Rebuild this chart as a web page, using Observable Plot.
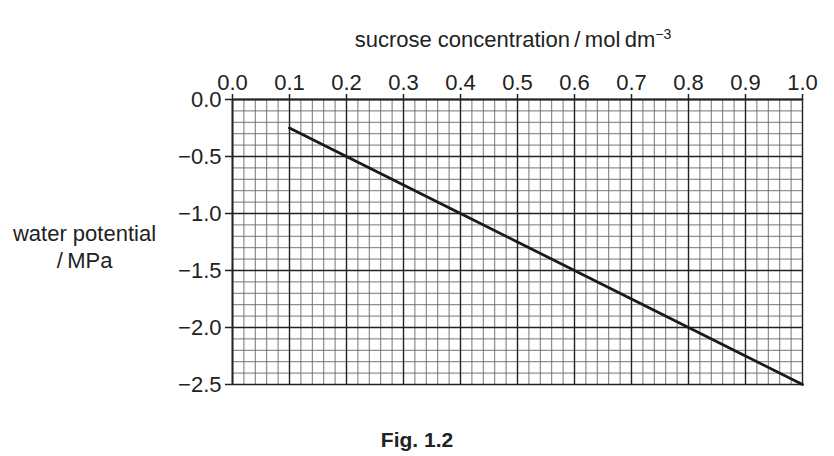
<!DOCTYPE html>
<html>
<head>
<meta charset="utf-8">
<script src="https://cdn.jsdelivr.net/npm/d3@7"></script>
<script src="https://cdn.jsdelivr.net/npm/@observablehq/plot@0.6"></script>
<style>
  body { margin: 0; background: #fff; font-family: "Liberation Sans", Arial, sans-serif; color: #222; }
  #title { height: 60px; box-sizing: border-box; padding-top: 27px; margin-left: 228px; width: 570px; text-align: center; font-size: 22px; line-height: 25px; white-space: nowrap; }
  #title sup { font-size: 14px; vertical-align: 8px; line-height: 0; }
  #caption { height: 56px; box-sizing: border-box; padding-top: 28px; text-align: center; font-size: 21px; font-weight: bold; line-height: 24px; }
  #chart svg text { font-size: 22px; }
  svg { display: block; }
</style>
</head>
<body>
<div id="title">sucrose concentration&#8201;/&#8201;mol&#8201;dm<sup>−3</sup></div>
<div id="chart"></div>
<div id="caption">Fig. 1.2</div>
<script>
// data
const concentration = [0.1, 0.2, 0.3, 0.4, 0.5, 0.6, 0.7, 0.8, 0.9, 1.0];
const waterPotential = [-0.25, -0.5, -0.75, -1.0, -1.25, -1.5, -1.75, -2.0, -2.25, -2.5];
const xTicks = [0.0, 0.1, 0.2, 0.3, 0.4, 0.5, 0.6, 0.7, 0.8, 0.9, 1.0];
const yTicks = [0.0, -0.5, -1.0, -1.5, -2.0, -2.5];
const xMinor = d3.range(0, 51).map(i => i / 50);
const yMinor = d3.range(0, 26).map(i => -i / 10);
const yLabel = "water potential\n/\u2009MPa";

const data = concentration.map((c, i) => ({c, w: waterPotential[i]}));
const fmt = d3.format(".1f");

const chart = Plot.plot({
  width: 834,
  height: 340,
  marginLeft: 232,
  marginRight: 32,
  marginTop: 39,
  marginBottom: 16,
  style: {fontFamily: "Liberation Sans, Arial, sans-serif", fontSize: "22px", color: "#222"},
  x: {domain: [0, 1]},
  y: {domain: [-2.5, 0]},
  marks: [
    Plot.ruleX(xMinor, {stroke: "#666", strokeWidth: 0.9}),
    Plot.ruleY(yMinor, {stroke: "#666", strokeWidth: 0.9}),
    Plot.ruleX(xTicks, {stroke: "#222", strokeWidth: 1.4}),
    Plot.ruleY(yTicks, {stroke: "#222", strokeWidth: 1.4}),
    Plot.ruleX([0], {stroke: "#222", strokeWidth: 1.8}),
    Plot.ruleY([0], {stroke: "#222", strokeWidth: 1.8}),
    Plot.axisX({anchor: "top", ticks: xTicks, tickFormat: fmt, tickSize: 6, tickPadding: 4, label: null, fontSize: 22, strokeWidth: 1.5}),
    Plot.axisY({anchor: "left", ticks: yTicks, tickFormat: fmt, tickSize: 7, tickPadding: 4, label: null, fontSize: 22, strokeWidth: 1.5}),
    Plot.line(data, {x: "c", y: "w", stroke: "#1a1a1a", strokeWidth: 2.8}),
    Plot.text([yLabel], {frameAnchor: "left", dx: -148, dy: 4, text: d => d, textAnchor: "middle", lineHeight: 1.23, fontSize: 22, fill: "#222"})
  ]
});
document.getElementById("chart").appendChild(chart);
</script>
</body>
</html>
